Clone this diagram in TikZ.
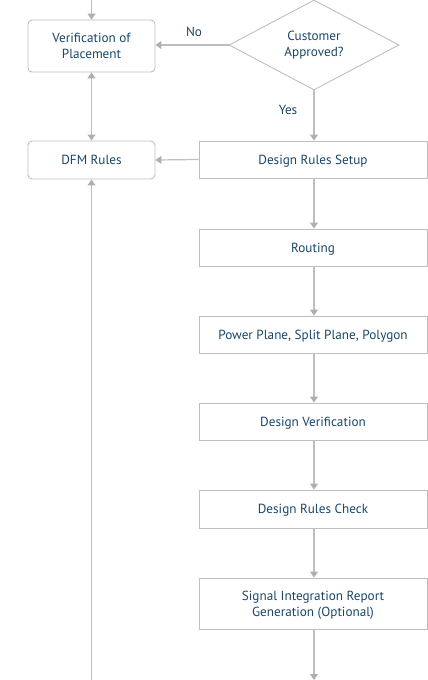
\documentclass[tikz,border=0pt]{standalone}
\usepackage{fontspec}
\setmainfont{PT Sans}
\usetikzlibrary{arrows.meta,shapes.geometric}
\definecolor{txt}{RGB}{24,70,104}
\definecolor{ln}{RGB}{190,190,190}
\definecolor{tip}{RGB}{175,175,175}
\begin{document}
\begin{tikzpicture}[x=1pt,y=-1pt,
  every node/.style={font=\fontsize{13.2}{16}\selectfont, text=txt},
  rbox/.style={draw=ln, line width=0.9pt, rounded corners=4pt, minimum width=127pt, inner sep=0pt, align=center, text depth=0pt},
  sbox/.style={draw=ln, line width=0.9pt, minimum width=228pt, inner sep=0pt, align=center, text depth=0pt},
  dec/.style={draw=ln, line width=0.9pt, shape=diamond, minimum width=170pt, minimum height=90pt, inner sep=0pt, align=center},
  conn/.style={draw=ln, line width=1.2pt, -{Triangle[width=8pt,length=6pt,color=tip]}},
  conn2/.style={draw=ln, line width=1.2pt, {Triangle[width=8pt,length=6pt,color=tip]}-{Triangle[width=8pt,length=6pt,color=tip]}},
  lbl/.style={font=\fontsize{13.2}{16}\selectfont, text=txt}]
\useasboundingbox (0,0) rectangle (428,680);
\node[rbox, minimum height=52pt] (vop) at (91.5,46) {Verification of\\Placement};
\node[rbox, minimum height=38pt] (dfm) at (91.5,160) {DFM Rules};
\node[dec] (cust) at (314,45) {Customer\\Approved?};
\node[sbox, minimum height=37pt] (drs) at (313,159.5) {Design Rules Setup};
\node[sbox, minimum height=37pt] (rout) at (313,247.5) {Routing};
\node[sbox, minimum height=37pt] (pp) at (313,334.5) {Power Plane, Split Plane, Polygon};
\node[sbox, minimum height=37pt] (dv) at (313,421.5) {Design Verification};
\node[sbox, minimum height=38pt] (drc) at (313,509) {Design Rules Check};
\node[sbox, minimum height=51pt] (si) at (313,603.5) {Signal Integration Report\\Generation (Optional)};
\coordinate (topin) at (91.5,0);
\coordinate (botin) at (91.5,680);
\coordinate (botout) at (314,680);
\node[lbl] (no) at (194,32) {No};
\node[lbl] (yes) at (288,110) {Yes};
\draw[conn] (topin) -- (vop.north);
\draw[conn] (cust.west) -- (vop.east |- cust.west);
\draw[conn] (cust.south) -- (drs.north -| cust.south);
\draw[conn2] (vop.south) -- (dfm.north);
\draw[conn] (drs.west) -- (dfm.east);
\draw[conn] (botin) -- (dfm.south);
\draw[conn] (drs.south -| cust.south) -- (rout.north -| cust.south);
\draw[conn] (rout.south -| cust.south) -- (pp.north -| cust.south);
\draw[conn] (pp.south -| cust.south) -- (dv.north -| cust.south);
\draw[conn] (dv.south -| cust.south) -- (drc.north -| cust.south);
\draw[conn] (drc.south -| cust.south) -- (si.north -| cust.south);
\draw[conn] (si.south -| cust.south) -- (botout);
\end{tikzpicture}
\end{document}
